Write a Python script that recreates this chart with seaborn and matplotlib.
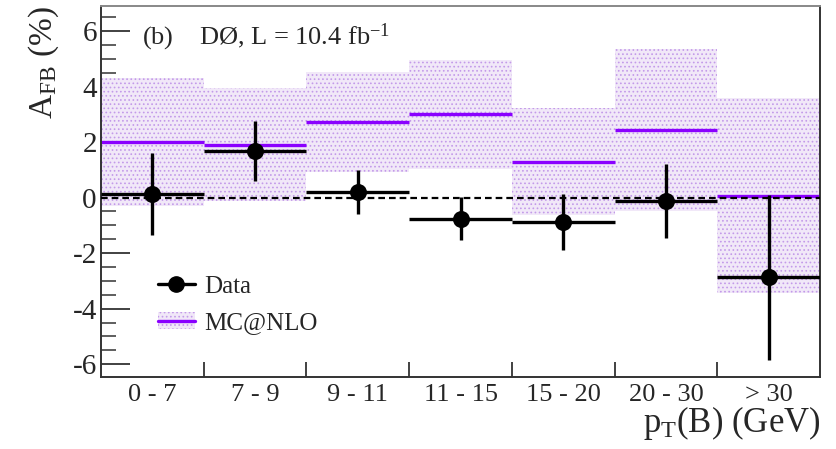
import numpy as np
import pandas as pd
import seaborn as sns
import matplotlib
matplotlib.use("Agg")
import matplotlib.pyplot as plt
from matplotlib.lines import Line2D
from matplotlib.patches import Patch

# pT(B) bins
bins = ["0 - 7", "7 - 9", "9 - 11", "11 - 15", "15 - 20", "20 - 30", "> 30"]

# measured forward-backward asymmetry (%) and its uncertainty
afb_data = [0.12, 1.68, 0.20, -0.76, -0.88, -0.12, -2.87]
afb_data_err = [1.48, 1.08, 0.80, 0.77, 1.00, 1.33, 2.98]

# MC@NLO prediction (%) and its uncertainty band
afb_mc = [2.00, 1.91, 2.73, 3.00, 1.30, 2.44, 0.07]
afb_mc_err = [2.30, 2.04, 1.80, 1.97, 1.93, 2.92, 3.50]

sns.set_theme(style="ticks")
plt.rcParams["font.family"] = ["Liberation Serif", "DejaVu Serif"]
plt.rcParams["mathtext.fontset"] = "custom"
plt.rcParams["mathtext.rm"] = "Liberation Serif"
plt.rcParams["mathtext.it"] = "Liberation Serif:italic"
plt.rcParams["axes.unicode_minus"] = False
plt.rcParams["hatch.linewidth"] = 0.7

df = pd.DataFrame({
    "pos": np.arange(len(bins)),
    "bin": bins,
    "data": afb_data,
    "derr": afb_data_err,
    "mc": afb_mc,
    "mcerr": afb_mc_err,
})

fig = plt.figure(figsize=(8.36, 4.49), dpi=100)
ax = fig.add_axes([0.1208, 0.161, 0.8602, 0.8256])

purple = "#8a00ff"
band_face = "#f1e8f8"
band_dots = "#c39ae9"

# MC uncertainty band
ax.bar(df["pos"], 2 * df["mcerr"], bottom=df["mc"] - df["mcerr"], width=1.0,
       color=band_face, edgecolor=band_dots, hatch="....", linewidth=0, zorder=1)
# MC central values
ax.hlines(df["mc"], df["pos"] - 0.5, df["pos"] + 0.5, color=purple, lw=2.4, zorder=2)

# zero line
ax.axhline(0, color="black", lw=1.6, ls=(0, (3, 1.8)), zorder=3)

# data: full-width horizontal bars and vertical error bars
ax.hlines(df["data"], df["pos"] - 0.5, df["pos"] + 0.5, color="black", lw=2.4, zorder=4)
ax.errorbar(df["pos"], df["data"], yerr=df["derr"], fmt="none", ecolor="black",
            elinewidth=2.4, capsize=0, zorder=4)
sns.scatterplot(data=df, x="pos", y="data", color="black", s=150, marker="o",
                edgecolor="black", linewidth=0, zorder=5, ax=ax, legend=False)

ax.set_xlim(-0.5, len(bins) - 0.5)
ax.set_ylim(-6.45, 6.9)

# x axis: tick marks at bin edges, labels at bin centres
ax.set_xticks(np.arange(len(bins) - 1) + 0.5)
ax.set_xticklabels([])
ax.set_xticks(df["pos"], minor=True)
ax.set_xticklabels(bins, minor=True, fontsize=19)
ax.tick_params(axis="x", which="major", direction="in", length=11, width=1.3, color="#333333")
ax.tick_params(axis="x", which="minor", length=0, pad=5)

ax.set_yticks([-6, -4, -2, 0, 2, 4, 6])
ax.set_yticks(np.arange(-6.0, 6.51, 0.5), minor=True)
ax.tick_params(axis="y", which="major", direction="in", length=21, width=1.3,
               labelsize=21, color="#333333", pad=3)
ax.tick_params(axis="y", which="minor", direction="in", length=11, width=1.1, color="#333333")

for s in ax.spines.values():
    s.set_color("#333333")
    s.set_linewidth(1.4)
ax.spines["top"].set_color("#888888")

ax.set_xlabel(r"p$_{\mathrm{T}}$(B) (GeV)", fontsize=25, loc="right", labelpad=-1)
ax.set_ylabel(r"A$_{\mathrm{FB}}$ (%)", fontsize=24, loc="top", labelpad=8)

ax.text(0.057, 0.916, r"(b)    DØ, L = 10.4 fb$^{\mathrm{-1}}$", transform=ax.transAxes,
        fontsize=19, va="center", ha="left")

h_data = Line2D([], [], color="black", lw=2.4, marker="o", markersize=11)
h_mc = (Patch(facecolor=band_face, edgecolor=band_dots, hatch="....", linewidth=0),
        Line2D([], [], color=purple, lw=2.4))
ax.legend([h_data, h_mc], ["Data", "MC@NLO"], loc="upper left",
          bbox_to_anchor=(0.065, 0.30), frameon=False, fontsize=18,
          handlelength=1.5, handletextpad=0.35, labelspacing=0.55, borderaxespad=0)

fig.savefig("out.png", dpi=100)
